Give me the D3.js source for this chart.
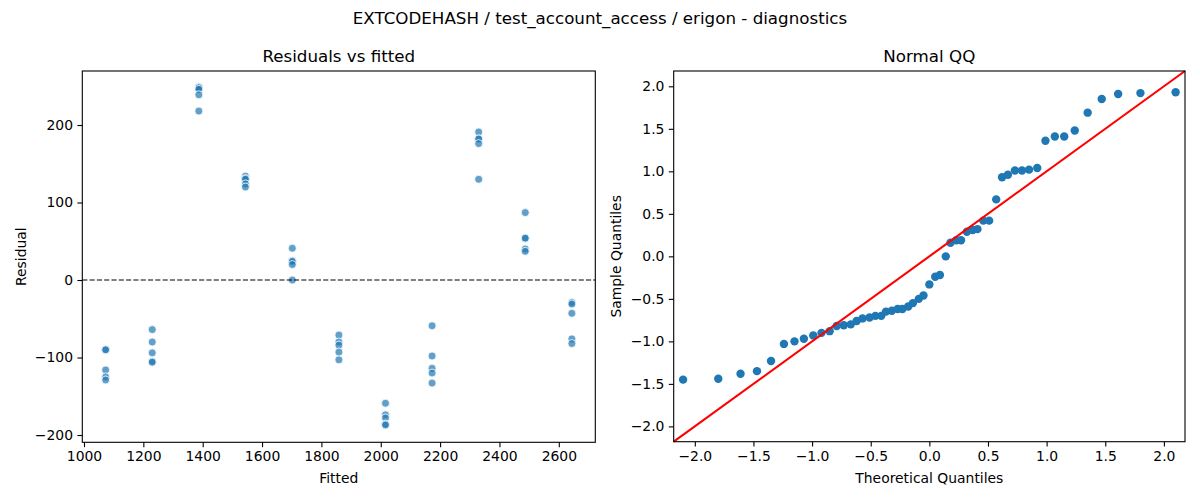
<!DOCTYPE html>
<html>
<head>
<meta charset="utf-8">
<script src="https://cdn.jsdelivr.net/npm/d3@7"></script>
<style>
    body { margin: 0; background: #fff; }
    svg { font-family: "DejaVu Sans", sans-serif; }
</style>
</head>
<body>
<div class="diagnostics"></div>
<script>

// fitted value of each group (x of the left panel)
const fitted = [1073, 1230, 1387, 1544, 1702, 1859, 2016, 2173, 2330, 2487, 2644];

// residuals, 5 runs per fitted group
const residuals = [
    [-90, -90, -116, -125, -129],
    [-64, -80, -94, -105, -106],
    [249, 248, 246, 239, 218],
    [134, 131, 130, 124, 120],
    [41, 25, 24, 20, 0],
    [-71, -80, -84, -93, -103],
    [-159, -174, -178, -186, -187],
    [-59, -98, -114, -120, -133],
    [191, 182, 182, 176, 130],
    [87, 54, 54, 40, 37],
    [-29, -31, -43, -76, -82]
];

// normal QQ points
const qqTheoretical = [-2.10, -1.80, -1.61, -1.47, -1.35, -1.24, -1.15, -1.07, -0.99, -0.92, -0.85,
    -0.79, -0.73, -0.67, -0.62, -0.57, -0.51, -0.46, -0.41, -0.37, -0.32, -0.27, -0.23, -0.18,
    -0.14, -0.09, -0.05, 0.00, 0.05, 0.09, 0.14, 0.18, 0.23, 0.27, 0.32, 0.37, 0.41, 0.46, 0.51,
    0.57, 0.62, 0.67, 0.73, 0.79, 0.85, 0.92, 0.99, 1.07, 1.15, 1.24, 1.35, 1.47, 1.61, 1.80, 2.10];
const qqSample = [-1.45, -1.44, -1.38, -1.35, -1.23, -1.03, -1.00, -0.97, -0.93, -0.90, -0.88,
    -0.82, -0.81, -0.80, -0.76, -0.73, -0.72, -0.70, -0.70, -0.65, -0.64, -0.62, -0.62, -0.59,
    -0.55, -0.50, -0.46, -0.33, -0.24, -0.22, 0.00, 0.16, 0.19, 0.19, 0.29, 0.31, 0.32, 0.42, 0.42,
    0.67, 0.93, 0.96, 1.01, 1.01, 1.02, 1.04, 1.36, 1.41, 1.41, 1.48, 1.69, 1.85, 1.91, 1.92, 1.93];

const fittedTicks = [1000, 1200, 1400, 1600, 1800, 2000, 2200, 2400, 2600];
const residualTicks = [-200, -100, 0, 100, 200];
const qqTicks = [-2.0, -1.5, -1.0, -0.5, 0.0, 0.5, 1.0, 1.5, 2.0];

const chartTitle = "EXTCODEHASH / test_account_access / erigon - diagnostics";

const blue = "#1f77b4";

let svg = d3.select(".diagnostics").append("svg")
    .attr("width", 1200)
    .attr("height", 500);

svg.append("text")
    .attr("x", 600).attr("y", 24)
    .attr("text-anchor", "middle")
    .attr("font-size", "16.7px")
    .text(chartTitle);

function styleAxis(g) {
    g.selectAll(".domain").remove();
    g.selectAll(".tick line").attr("stroke", "#000").attr("stroke-width", 1.1);
    g.selectAll(".tick text").attr("font-size", "13.9px").attr("fill", "#000")
        .attr("font-family", "DejaVu Sans, sans-serif");
}

function frame(x0, y0, x1, y1, title, xlabel, ylabel, ylabelX) {
    svg.append("rect")
        .attr("x", x0).attr("y", y0)
        .attr("width", x1 - x0).attr("height", y1 - y0)
        .attr("fill", "none").attr("stroke", "#000").attr("stroke-width", 1.1);
    svg.append("text")
        .attr("x", (x0 + x1) / 2).attr("y", y0 - 9)
        .attr("text-anchor", "middle").attr("font-size", "16.7px")
        .text(title);
    svg.append("text")
        .attr("x", (x0 + x1) / 2).attr("y", 483)
        .attr("text-anchor", "middle").attr("font-size", "13.9px")
        .text(xlabel);
    svg.append("text")
        .attr("transform", "translate(" + ylabelX + "," + ((y0 + y1) / 2) + ") rotate(-90)")
        .attr("text-anchor", "middle").attr("font-size", "13.9px")
        .text(ylabel);
}

// ---- Residuals vs fitted ----
let fx = d3.scaleLinear().domain([994.3, 2723]).range([82.3, 595.3]);
let fy = d3.scaleLinear().domain([-209.4, 269.7]).range([442.3, 71]);

let points = [];
fitted.forEach(function (f, i) {
    residuals[i].forEach(function (r) { points.push({ fitted: f, resid: r }); });
});

let left = svg.append("g");
left.selectAll("circle").data(points).enter()
    .append("circle")
        .attr("cx", function (d) { return fx(d.fitted); })
        .attr("cy", function (d) { return fy(d.resid); })
        .attr("r", 4)
        .attr("fill", blue)
        .attr("fill-opacity", 0.7)
        .attr("stroke", "#fff")
        .attr("stroke-width", 0.8);

left.append("line")
    .attr("x1", fx.range()[0]).attr("x2", fx.range()[1])
    .attr("y1", fy(0)).attr("y2", fy(0))
    .attr("stroke", "#000").attr("stroke-width", 1.1)
    .attr("stroke-dasharray", "5.1,2.2");

svg.append("g").attr("transform", "translate(0,442.3)")
    .call(d3.axisBottom(fx).tickValues(fittedTicks).tickFormat(d3.format("d")).tickSize(4.9).tickPadding(4.4))
    .call(styleAxis);
svg.append("g").attr("transform", "translate(82.3,0)")
    .call(d3.axisLeft(fy).tickValues(residualTicks).tickFormat(d3.format("d")).tickSize(4.9).tickPadding(4.4))
    .call(styleAxis);

frame(82.3, 71, 595.3, 442.3, "Residuals vs fitted", "Fitted", "Residual", 26);

// ---- Normal QQ ----
let qx = d3.scaleLinear().domain([-2.18, 2.18]).range([673.7, 1185]);
let qy = d3.scaleLinear().domain([-2.18, 2.18]).range([441.7, 71]);

let right = svg.append("g");
right.selectAll("circle").data(qqTheoretical).enter()
    .append("circle")
        .attr("cx", function (d) { return qx(d); })
        .attr("cy", function (d, i) { return qy(qqSample[i]); })
        .attr("r", 4.2)
        .attr("fill", blue);

// 45 degree reference line
right.append("line")
    .attr("x1", qx(-2.18)).attr("y1", qy(-2.18))
    .attr("x2", qx(2.18)).attr("y2", qy(2.18))
    .attr("stroke", "#ff0000").attr("stroke-width", 2.1);

svg.append("g").attr("transform", "translate(0,441.7)")
    .call(d3.axisBottom(qx).tickValues(qqTicks).tickFormat(d3.format(".1f")).tickSize(4.9).tickPadding(4.4))
    .call(styleAxis);
svg.append("g").attr("transform", "translate(673.7,0)")
    .call(d3.axisLeft(qy).tickValues(qqTicks).tickFormat(d3.format(".1f")).tickSize(4.9).tickPadding(4.4))
    .call(styleAxis);

frame(673.7, 71, 1185, 441.7, "Normal QQ", "Theoretical Quantiles", "Sample Quantiles", 621);

</script>
</body>
</html>
